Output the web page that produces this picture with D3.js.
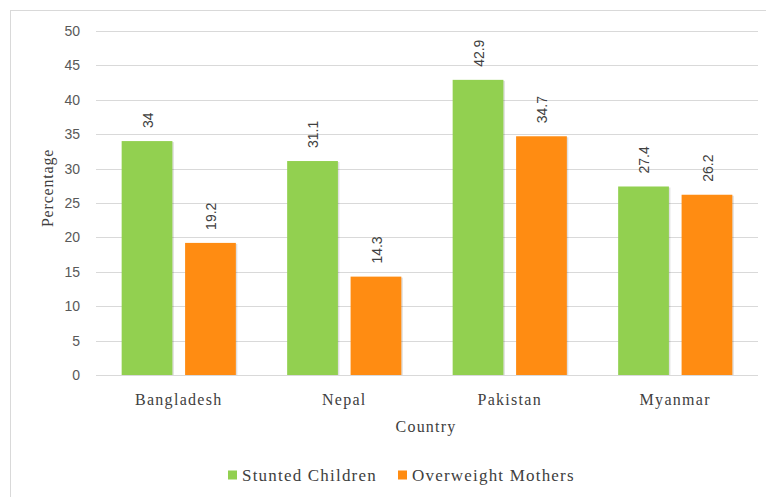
<!DOCTYPE html>
<html>
<head>
<meta charset="utf-8">
<script src="https://cdn.jsdelivr.net/npm/d3@7"></script>
<style>
  body { margin: 0; background: #fff; }
  svg { display: block; }
</style>
</head>
<body>
<div id="chart"></div>
<script>
// Chart data
const countries = ["Bangladesh", "Nepal", "Pakistan", "Myanmar"];
const seriesNames = ["Stunted Children", "Overweight Mothers"];
const stuntedChildren = [34, 31.1, 42.9, 27.4];
const overweightMothers = [19.2, 14.3, 34.7, 26.2];
const yTicks = [0, 5, 10, 15, 20, 25, 30, 35, 40, 45, 50];

const colors = ["#92d050", "#ff8c12"];
const serif = "'Liberation Serif', 'Times New Roman', serif";
const sans = "'Liberation Sans', Arial, sans-serif";

const width = 766, height = 497;
const margin = { top: 31, right: 8, bottom: 122, left: 96 };

const svg = d3.select('#chart').append('svg')
    .attr('width', width)
    .attr('height', height);

// outer frame (cropped on right/bottom)
svg.append('rect')
    .attr('x', 10.5).attr('y', 10.5)
    .attr('width', width + 10).attr('height', height + 10)
    .attr('fill', 'none')
    .attr('stroke', '#d9d9d9');

const x0 = d3.scaleBand()
    .domain(countries)
    .range([margin.left, width - margin.right])
    .paddingInner(0.31)
    .paddingOuter(0.155);

const x1 = d3.scaleBand()
    .domain(seriesNames)
    .range([0, x0.bandwidth()])
    .paddingInner(0.2);

const y = d3.scaleLinear()
    .domain([0, 50])
    .range([height - margin.bottom, margin.top]);

// gridlines
svg.append('g')
    .selectAll('line')
    .data(yTicks)
    .join('line')
    .attr('x1', margin.left)
    .attr('x2', width - margin.right)
    .attr('y1', d => Math.round(y(d)) + 0.5)
    .attr('y2', d => Math.round(y(d)) + 0.5)
    .attr('stroke', '#d9d9d9')
    .attr('stroke-width', 1.2);

// y tick labels
svg.append('g')
    .selectAll('text')
    .data(yTicks)
    .join('text')
    .attr('x', 80)
    .attr('y', d => y(d))
    .attr('dy', '0.35em')
    .attr('text-anchor', 'end')
    .style('font-family', sans)
    .style('font-size', '14px')
    .style('fill', '#595959')
    .text(d => d);

const rows = countries.map((c, i) => ({
    country: c,
    values: [stuntedChildren[i], overweightMothers[i]]
}));

const groups = svg.append('g')
    .selectAll('g')
    .data(rows)
    .join('g')
    .attr('transform', d => `translate(${x0(d.country)},0)`);

const bars = groups.selectAll('g.bar')
    .data(d => d.values.map((v, j) => ({ name: seriesNames[j], value: v, j })))
    .join('g')
    .attr('class', 'bar');

// soft shadow
bars.append('rect')
    .attr('x', d => x1(d.name) + 1.5)
    .attr('y', d => y(d.value) + 1)
    .attr('width', x1.bandwidth())
    .attr('height', d => y(0) - y(d.value) - 1)
    .attr('fill', '#000')
    .attr('opacity', 0.12);

bars.append('rect')
    .attr('x', d => x1(d.name))
    .attr('y', d => y(d.value))
    .attr('width', x1.bandwidth())
    .attr('height', d => y(0) - y(d.value))
    .attr('fill', d => colors[d.j]);

// value labels, rotated
bars.append('text')
    .attr('transform', d => `translate(${x1(d.name) + x1.bandwidth() / 2 + 1},${y(d.value) - 13}) rotate(-90)`)
    .attr('dy', '0.35em')
    .attr('text-anchor', 'start')
    .style('font-family', sans)
    .style('font-size', '14px')
    .style('fill', '#404040')
    .text(d => d.value);

// category labels
svg.append('g')
    .selectAll('text')
    .data(countries)
    .join('text')
    .attr('x', d => x0(d) + x0.bandwidth() / 2)
    .attr('y', 405)
    .attr('text-anchor', 'middle')
    .style('font-family', serif)
    .style('font-size', '16px')
    .style('letter-spacing', '1.3px')
    .style('fill', '#404040')
    .text(d => d);

// axis titles
svg.append('text')
    .attr('x', 426)
    .attr('y', 432)
    .attr('text-anchor', 'middle')
    .style('font-family', serif)
    .style('font-size', '16px')
    .style('letter-spacing', '1.2px')
    .style('fill', '#404040')
    .text('Country');

svg.append('text')
    .attr('transform', 'translate(53,188) rotate(-90)')
    .attr('text-anchor', 'middle')
    .style('font-family', serif)
    .style('font-size', '16px')
    .style('letter-spacing', '0.8px')
    .style('fill', '#404040')
    .text('Percentage');

// legend
const legendX = [228, 398];
const legend = svg.append('g')
    .selectAll('g')
    .data(seriesNames)
    .join('g')
    .attr('transform', (d, i) => `translate(${legendX[i]},475)`);

legend.append('rect')
    .attr('x', 0).attr('y', -4.5)
    .attr('width', 9).attr('height', 9)
    .attr('fill', (d, i) => colors[i]);

legend.append('text')
    .attr('x', 14)
    .attr('y', 0)
    .attr('dy', '0.35em')
    .style('font-family', serif)
    .style('font-size', '17px')
    .style('letter-spacing', '1.2px')
    .style('fill', '#404040')
    .text(d => d);
</script>
</body>
</html>
